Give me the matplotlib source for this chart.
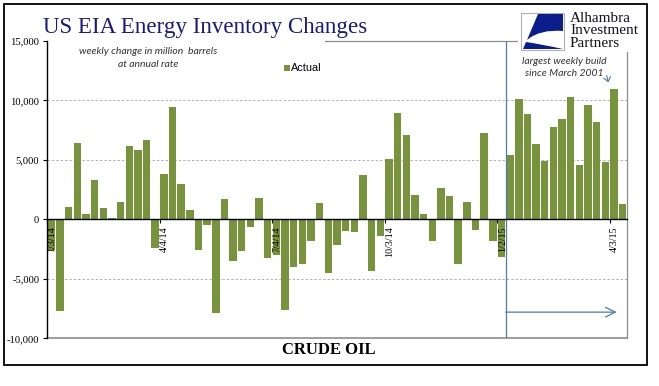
import matplotlib
matplotlib.use("Agg")
import matplotlib.pyplot as plt
from matplotlib.transforms import Affine2D
from matplotlib.path import Path
from matplotlib.patches import PathPatch, Rectangle, FancyArrowPatch
from matplotlib.lines import Line2D

# ---- data ----
values = [-2600, -7730, 1010, 6400, 420, 3290, 955, 110, 1430, 6150, 5820, 6660,
          -2420, 3790, 9470, 2950, 760, -2590, -480, -7900, 1690, -3510,
          -2670, -650, 1770, -3260, -3000, -7640, -4020, -3770, -1830, 1400, -4520,
          -2160, -980, -1070, 3710, -4360, -1400, 5060, 8960, 7110, 2020, 420,
          -1830, 2610, 1940, -3770, 1430, -900, 7250, -1830, -3180, 5400, 10120,
          8850, 6320, 4920, 7760, 8430, 10310, 4550, 9610, 8180, 4830, 10960, 1260]
label_idx = [0, 13, 26, 39, 52, 65]
date_labels = ["1/3/14", "4/4/14", "7/4/14", "10/3/14", "1/2/15", "4/3/15"]
yticks = [-10000, -5000, 0, 5000, 10000, 15000]
ytick_labels = ["-10,000", "-5,000", "0", "5,000", "10,000", "15,000"]
series_name = "Actual"

W, H = 659, 386
fig = plt.figure(figsize=(W / 100, H / 100), dpi=100)
fig.patch.set_facecolor("white")
PX = Affine2D().scale(1 / W, -1 / H).translate(0, 1) + fig.transFigure

serif = "Liberation Serif"
green = "#77933C"
blue_line = "#4F79B0"

ax = fig.add_axes([47 / W, 1 - 338.3 / H, (627 - 47) / W, (338.3 - 41) / H])
n = len(values)
x = list(range(n))
ax.bar(x, values, width=0.86, color=green, zorder=2)
ax.set_xlim(-0.5, n - 0.5)
ax.set_ylim(-10000, 15000)

# spines
ax.spines["top"].set_visible(False)
ax.spines["left"].set_color("black")
ax.spines["left"].set_linewidth(1.0)
ax.spines["right"].set_color("#8c8c8c")
ax.spines["right"].set_linewidth(0.9)
ax.spines["bottom"].set_position(("data", 0))
ax.spines["bottom"].set_color("black")
ax.spines["bottom"].set_linewidth(1.0)
ax.spines["bottom"].set_zorder(3)
ax.axhline(-10000, color="#8c8c8c", lw=1.2, zorder=1, clip_on=False)

# ticks
ax.set_yticks(yticks)
ax.set_yticklabels(ytick_labels, fontfamily=serif, fontsize=7.6)
ax.tick_params(axis="y", direction="out", length=3, width=0.8, pad=2.5)
ax.set_xticks([i - 0.5 for i in label_idx])
ax.set_xticklabels([])
ax.tick_params(axis="x", direction="out", length=3, width=0.8)

for yv in [10000, 5000, -5000]:
    ax.axhline(yv, color="#b0b0b0", lw=0.7, ls=(0, (2.5, 2)), zorder=1)

for i, lab in zip(label_idx, date_labels):
    ax.annotate(lab, xy=(i, 0), xytext=(0.5, -5), textcoords="offset points",
                rotation=90, ha="center", va="top", fontfamily=serif,
                fontsize=7.2, color="black", zorder=4)

# highlighted region
ax.axvline(52.5, color=blue_line, lw=0.9, zorder=3)
ax.annotate("", xy=(65.3, -7800), xytext=(52.5, -7800),
            arrowprops=dict(arrowstyle="->,head_length=0.7,head_width=0.35",
                            color=blue_line, lw=0.9, shrinkA=0, shrinkB=0))

# top gray line
fig.add_artist(Line2D([325, 518], [41.3, 41.3], transform=PX, color="#8c8c8c", lw=0.9))

# outer frame
fig.add_artist(Rectangle((4.3, 4.3), 643, 360.7, transform=PX, fill=False,
                         edgecolor="black", lw=1.3))

# title
fig.text(43 / W, 1 - 33 / H, "US EIA Energy Inventory Changes", fontfamily=serif,
         fontsize=16.6, color="#1A1A80", va="baseline", ha="left")

# notes
fig.text(148 / W, 1 - 52 / H, "weekly change in million  barrels", fontfamily="Lato",
         style="italic", fontsize=7.5, ha="center", va="center", color="#333333")
fig.text(148 / W, 1 - 64.5 / H, "at annual rate", fontfamily="Lato",
         style="italic", fontsize=7.5, ha="center", va="center", color="#333333")

# legend
fig.add_artist(Rectangle((284, 65), 6, 6, transform=PX, facecolor=green, edgecolor="none"))
fig.text(291 / W, 1 - 68.3 / H, series_name, fontfamily="Liberation Sans", fontsize=7.8,
         ha="left", va="center", color="black")

# largest build note
fig.text(564 / W, 1 - 61.7 / H, "largest weekly build", fontfamily="Lato",
         style="italic", fontsize=7.5, ha="center", va="center", color="#333333")
fig.text(564 / W, 1 - 73.3 / H, "since March 2001", fontfamily="Lato",
         style="italic", fontsize=7.5, ha="center", va="center", color="#333333")
fig.add_artist(FancyArrowPatch((606, 73), (609, 85), transform=PX,
                               arrowstyle="->,head_length=3,head_width=2.5",
                               color=blue_line, lw=0.8))

# logo
fig.add_artist(Rectangle((518, 8), 126, 43.5, transform=PX, facecolor="white",
                         edgecolor="none", zorder=5))
fig.add_artist(Rectangle((520.7, 12.7), 43.3, 37.3, transform=PX, facecolor="white",
                         edgecolor="#b0b0b0", lw=0.8, zorder=6))
navy = "#0B1E8C"
verts = [(538, 14), (563, 14), (563, 31), (540, 29), (527, 40), (538, 14)]
codes = [Path.MOVETO, Path.LINETO, Path.LINETO, Path.CURVE3, Path.CURVE3, Path.CLOSEPOLY]
fig.add_artist(PathPatch(Path(verts, codes), transform=PX, facecolor=navy,
                         edgecolor="none", zorder=7))
verts2 = [(523, 49), (526, 42), (540, 44), (563, 49), (523, 49)]
codes2 = [Path.MOVETO, Path.LINETO, Path.CURVE3, Path.CURVE3, Path.CLOSEPOLY]
fig.add_artist(PathPatch(Path(verts2, codes2), transform=PX, facecolor=navy,
                         edgecolor="none", zorder=7))
for txt, yb in [("Alhambra", 21.5), ("Investment", 34.5), ("Partners", 47)]:
    fig.text(570 / W, 1 - yb / H, txt, fontfamily=serif, fontsize=11, color="#111122",
             ha="left", va="baseline", zorder=8)

# bottom label
fig.text(329 / W, 1 - 350 / H, "CRUDE OIL", fontfamily=serif, fontweight="bold",
         fontsize=12, ha="center", va="center", color="black")

fig.savefig("out.png", dpi=100, facecolor="white")
